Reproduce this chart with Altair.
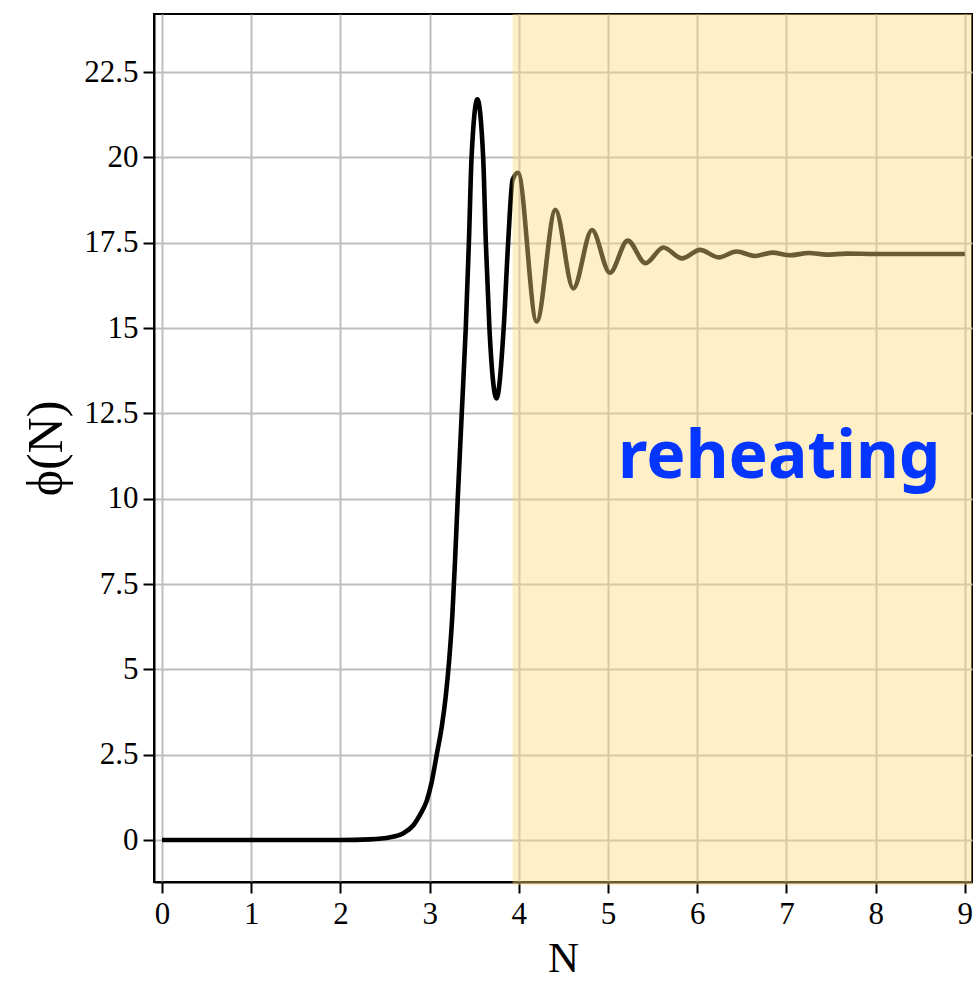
import altair as alt
import pandas as pd

# Inflaton field phi(N) versus number of e-folds N
n_vals = [0.0, 1.0, 2.0, 2.33, 2.56, 2.705, 2.82, 2.89, 2.97, 3.02, 3.08, 3.136,
          3.18, 3.22, 3.255, 3.285, 3.315, 3.36, 3.405, 3.44, 3.47, 3.535, 3.60, 3.63,
          3.67, 3.75, 3.83, 3.88, 3.93, 3.99, 4.20, 4.41, 4.61, 4.82, 5.02, 5.22,
          5.42, 5.62, 5.83, 6.03, 6.24, 6.44, 6.65, 6.84, 7.04, 7.25, 7.45, 7.67,
          8.0, 8.5, 9.0]
phi_vals = [0.0, 0.0, 0.0, 0.02, 0.08, 0.20, 0.44, 0.73, 1.17, 1.66, 2.51, 3.32,
            4.2, 5.3, 6.6, 8.2, 10.0, 12.5, 15.0, 17.5, 20.0, 21.7, 20.0, 17.5,
            15.0, 12.94, 15.0, 17.5, 19.34, 19.55, 15.19, 18.46, 16.16, 17.87, 16.62, 17.56,
            16.90, 17.36, 17.04, 17.29, 17.07, 17.24, 17.11, 17.21, 17.13, 17.20, 17.15, 17.18,
            17.17, 17.17, 17.17]

x_ticks = [0, 1, 2, 3, 4, 5, 6, 7, 8, 9]
y_ticks = [0, 2.5, 5, 7.5, 10, 12.5, 15, 17.5, 20, 22.5]

x_domain = [-0.09, 9.08]
y_domain = [-1.23, 24.2]

# reheating band
band_n = [3.93]
band_n2 = [9.08]
band_phi = [-1.32]
band_phi2 = [24.2]

label_text = ["reheating"]
label_n = [6.92]
label_phi = [10.6]

curve = pd.DataFrame({"N": n_vals, "phi": phi_vals})
band = pd.DataFrame({"x": band_n, "x2": band_n2, "y": band_phi, "y2": band_phi2})
label = pd.DataFrame({"N": label_n, "phi": label_phi, "text": label_text})

serif = "Liberation Serif"

x_scale = alt.Scale(domain=x_domain, nice=False, zero=False)
y_scale = alt.Scale(domain=y_domain, nice=False, zero=False)

x_axis = alt.Axis(values=x_ticks, title="N", format="d",
                  titleBaseline="alphabetic", titleY=89, titleFontSize=43)
y_axis = alt.Axis(values=y_ticks, title="ϕ(N)", format=".1~f",
                  titleFontSize=50)

line = alt.Chart(curve).mark_line(
    color="black", strokeWidth=4.6, interpolate="monotone"
).encode(
    x=alt.X("N:Q", scale=x_scale, axis=x_axis),
    y=alt.Y("phi:Q", scale=y_scale, axis=y_axis),
)

shade = alt.Chart(band).mark_rect(color="#FFD97A", opacity=0.42).encode(
    x=alt.X("x:Q", scale=x_scale),
    x2="x2:Q",
    y=alt.Y("y:Q", scale=y_scale),
    y2="y2:Q",
)

text = alt.Chart(label).mark_text(
    color="#0536FF", font="Noto Sans", fontSize=66, fontWeight="bold",
    align="center", baseline="alphabetic"
).encode(
    x=alt.X("N:Q", scale=x_scale),
    y=alt.Y("phi:Q", scale=y_scale),
    text="text:N",
)

chart = alt.layer(line, shade, text).properties(
    width=818,
    height=868,
    autosize="none",
    padding={"left": 154, "top": 14, "right": 5, "bottom": 99},
).configure_view(
    stroke="black", strokeWidth=2
).configure_axis(
    domainColor="black", domainWidth=2,
    tickColor="black", tickWidth=2, tickSize=11,
    gridColor="#BEBEBE", gridWidth=2,
    labelFont=serif, labelFontSize=31, labelColor="black", labelPadding=5,
    titleFont=serif, titleFontSize=44, titleFontWeight="normal", titleColor="black",
).configure_axisX(
    labelPadding=6
).configure_axisY(
    titlePadding=12
)

chart.save("out.html", embed_options={"renderer": "svg", "actions": False})
